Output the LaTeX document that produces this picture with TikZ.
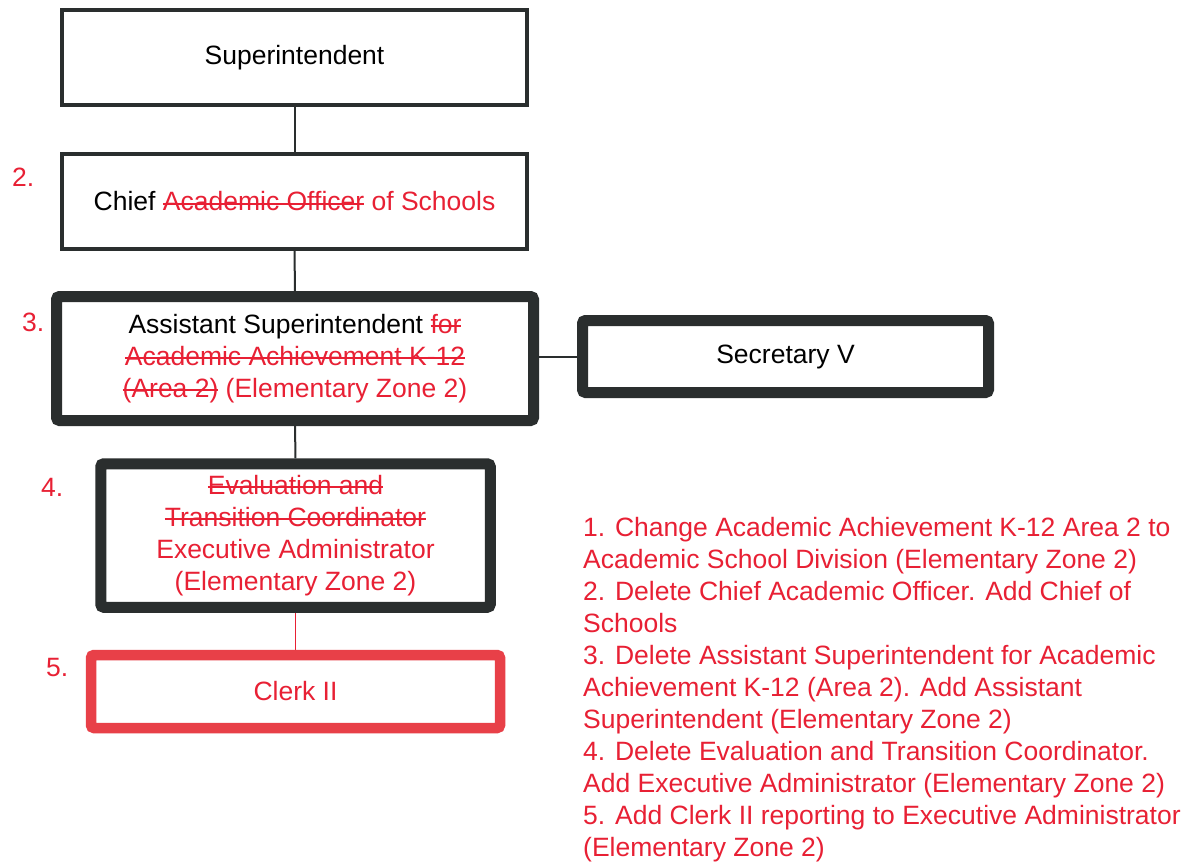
\documentclass[tikz,border=0pt]{standalone}
\usepackage{fontspec}
\setmainfont{Liberation Sans}
\usetikzlibrary{backgrounds}
\definecolor{ink}{RGB}{42,46,46}
\definecolor{mark}{RGB}{232,32,52}
\definecolor{clerkred}{RGB}{232,64,72}
\newcommand\strk[1]{\setbox0=\hbox{#1}\rlap{\rule[0.24em]{\wd0}{1.8pt}}\box0\relax}
\begin{document}
\begin{tikzpicture}[x=1pt,y=-1pt,
  every node/.style={font=\fontsize{26.5}{32}\selectfont},
  thinbox/.style={draw=ink, line width=4pt, fill=white, minimum width=465pt, minimum height=95pt, inner sep=0pt, align=center},
  thickbox/.style={draw=ink, line width=11pt, fill=white, rounded corners=3pt, inner sep=0pt, align=center},
  redbox/.style={thickbox, draw=clerkred, line width=10.5pt},
  num/.style={text=mark, anchor=west, inner sep=0pt},
  link/.style={draw=ink, line width=2pt}]
\useasboundingbox (0,0) rectangle (1200,863);
\begin{scope}[on background layer]
  \fill[white] (0,0) rectangle (1200,863);
\end{scope}

\node[thinbox] (sup) at (294.5,57.5) {Superintendent};
\node[thinbox] (chief) at (294.5,201.5) {Chief \textcolor{mark}{\strk{Academic Officer} of Schools}};
\node[thickbox, minimum width=477pt, minimum height=124pt] (asst) at (295,358.5)
  {Assistant Superintendent \textcolor{mark}{\strk{for}}\\
   \textcolor{mark}{\strk{Academic Achievement K-12}}\\
   \textcolor{mark}{\strk{(Area 2)} (Elementary Zone 2)}};
\node[thickbox, minimum width=406pt, minimum height=72pt] (sec) at (785.5,356.5) {Secretary V};
\node[thickbox, text=mark, minimum width=389.5pt, minimum height=143.5pt] (eval) at (295.5,535.5)
  {\strk{Evaluation and}\\
   \strk{Transition Coordinator}\\
   Executive Administrator\\
   (Elementary Zone 2)};
\node[redbox, text=mark, minimum width=409pt, minimum height=73pt] (clerk) at (295.5,691.5) {Clerk II};

\node[num] (n2) at (12,177) {2.};
\node[num] (n3) at (22,322) {3.};
\node[num] (n4) at (41,487) {4.};
\node[num] (n5) at (46,668) {5.};

\node[anchor=north west, inner sep=0pt, align=left, text=mark] (notes) at (583,517.5)
  {1. Change Academic Achievement K-12 Area 2 to\\
   Academic School Division (Elementary Zone 2)\\
   2. Delete Chief Academic Officer. Add Chief of\\
   Schools\\
   3. Delete Assistant Superintendent for Academic\\
   Achievement K-12 (Area 2). Add Assistant\\
   Superintendent (Elementary Zone 2)\\
   4. Delete Evaluation and Transition Coordinator.\\
   Add Executive Administrator (Elementary Zone 2)\\
   5. Add Clerk II reporting to Executive Administrator\\
   (Elementary Zone 2)};

\begin{scope}[on background layer]
  \draw[link] (sup.south) -- (chief.north);
  \draw[link] (chief.south) -- (asst.north);
  \draw[link] (sec.west) -- (sec.west -| asst.east);
  \draw[link] (asst.south) -- (eval.north);
  \draw[draw=mark, line width=1.5pt] (eval.south) -- (clerk.north);
\end{scope}
\end{tikzpicture}
\end{document}
